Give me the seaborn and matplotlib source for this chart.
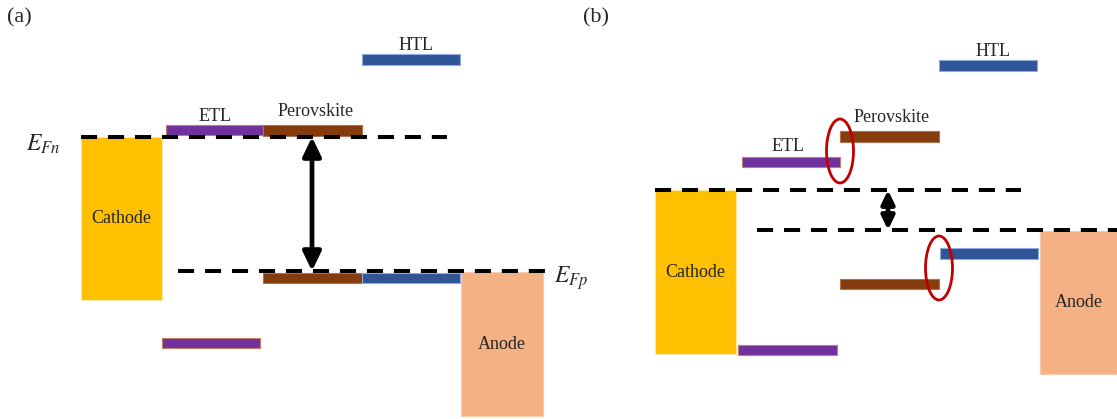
import matplotlib
matplotlib.use("Agg")
import matplotlib.pyplot as plt
from matplotlib.patches import Ellipse, Rectangle
import seaborn as sns

# ---- band-diagram data (x spans and energy levels in drawing units, y grows downward) ----
layers = ["ETL", "Perovskite", "HTL"]
layer_colors = ["#7030A0", "#843C0C", "#2F5597"]
layer_edges = ["#C08060", "#B07050", "#8FAADC"]

# panel (a): aligned levels
a_cb_x0 = [166, 263, 362]
a_cb_x1 = [263, 362, 460]
a_vb_x0 = [162, 263, 362]
a_vb_x1 = [260, 362, 460]
a_cb = [130, 130.5, 59.5]
a_vb = [343, 278, 278]
a_fermi_n = 137
a_fermi_p = 271

# panel (b): misaligned interfaces
b_cb_x0 = [742, 840, 939]
b_cb_x1 = [840, 939, 1037]
b_vb_x0 = [738, 840, 940]
b_vb_x1 = [837, 939, 1038]
b_cb = [162, 136.5, 65.5]
b_vb = [350, 284, 253.5]
b_fermi_n = 190
b_fermi_p = 230

# electrodes: (x0, x1, top, bottom)
cathode_a = (81, 162, 137, 300)
anode_a = (461, 543, 272, 416)
cathode_b = (655, 736, 190, 354)
anode_b = (1040, 1117, 231, 374)

sns.set_theme(style="white")
plt.rcParams["font.family"] = ["Liberation Serif", "DejaVu Serif"]
plt.rcParams["mathtext.fontset"] = "stix"

fig = plt.figure(figsize=(11.17, 4.19), dpi=100)
ax = fig.add_axes([0, 0, 1, 1])
ax.set_xlim(0, 1117)
ax.set_ylim(419, 0)
ax.axis("off")

BAR_H = 10.5
CATHODE = "#FFC000"
ANODE = "#F4B183"
FS = 13


def electrode(box, color, label):
    x0, x1, top, bot = box
    ax.add_patch(Rectangle((x0, top), x1 - x0, bot - top, facecolor=color,
                           edgecolor="#FFE9A8" if color == CATHODE else "#F8CBAD",
                           lw=0.8, zorder=1))
    ax.text((x0 + x1) / 2, (top + bot) / 2, label, ha="center", va="center",
            fontsize=FS, zorder=5)


def levels(x0s, x1s, ys):
    for x0, x1, y, c, e in zip(x0s, x1s, ys, layer_colors, layer_edges):
        ax.barh(y=y, width=x1 - x0, left=x0, height=BAR_H, color=c,
                edgecolor=e, linewidth=0.8, zorder=2)


def fermi(x0, x1, y):
    sns.lineplot(x=[x0, x1], y=[y, y], ax=ax, color="black", linewidth=2.9,
                 linestyle=(0, (4.0, 2.7)), zorder=3, legend=False)


def double_arrow(x, y0, y1, scale):
    ax.annotate("", xy=(x, y1), xytext=(x, y0),
                arrowprops=dict(arrowstyle="<|-|>,head_length=0.5,head_width=0.24",
                                color="black", lw=3.4,
                                mutation_scale=scale, shrinkA=0, shrinkB=0),
                zorder=4)


# ---- panel (a) ----
electrode(cathode_a, CATHODE, "Cathode")
electrode(anode_a, ANODE, "Anode")
levels(a_cb_x0, a_cb_x1, a_cb)
levels(a_vb_x0, a_vb_x1, a_vb)
fermi(81, 447, a_fermi_n)
fermi(178, 545, a_fermi_p)
double_arrow(312, a_fermi_n, a_fermi_p, 23)

ax.text(7, 18, "(a)", fontsize=16, ha="left", va="center")
ax.text(215, 116, "ETL", fontsize=FS, ha="center", va="center")
ax.text(316, 111, "Perovskite", fontsize=FS, ha="center", va="center")
ax.text(416, 46, "HTL", fontsize=FS, ha="center", va="center")
ax.text(43, 144, r"$E_{Fn}$", fontsize=17, ha="center", va="center")
ax.text(571, 278, r"$E_{Fp}$", fontsize=17, ha="center", va="center")

# ---- panel (b) ----
electrode(cathode_b, CATHODE, "Cathode")
electrode(anode_b, ANODE, "Anode")
levels(b_cb_x0, b_cb_x1, b_cb)
levels(b_vb_x0, b_vb_x1, b_vb)
fermi(655, 1021, b_fermi_n)
fermi(757, 1130, b_fermi_p)
double_arrow(888, b_fermi_n, b_fermi_p, 16)

for cx, cy in [(840, 151), (939, 268)]:
    ax.add_patch(Ellipse((cx, cy), 27, 64, fill=False, edgecolor="#C00000",
                         lw=2.0, zorder=6))

ax.text(583, 18, "(b)", fontsize=16, ha="left", va="center")
ax.text(788, 146, "ETL", fontsize=FS, ha="center", va="center")
ax.text(892, 117, "Perovskite", fontsize=FS, ha="center", va="center")
ax.text(993, 51, "HTL", fontsize=FS, ha="center", va="center")

fig.savefig("out.png", dpi=100)
